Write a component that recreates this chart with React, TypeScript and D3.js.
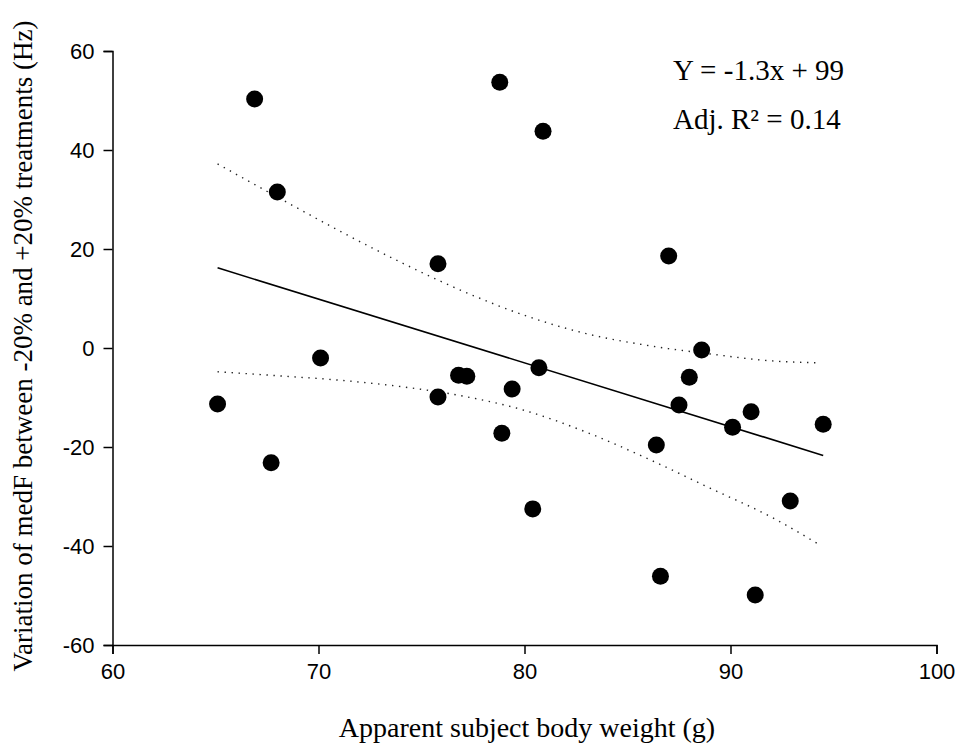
import * as d3 from 'd3'
import { useEffect, useRef } from 'react'

// body weight (g) and medF variation (Hz) for each subject
const weights = [65.1, 66.9, 67.7, 68.0, 70.1, 75.8, 75.8, 76.8, 77.2, 78.8, 78.9, 79.4, 80.4, 80.7, 80.9,
    86.4, 86.6, 87.0, 87.5, 88.0, 88.6, 90.1, 91.0, 91.2, 92.9, 94.5]
const variations = [-11.3, 50.3, -23.2, 31.5, -2.0, 17.0, -9.9, -5.5, -5.7, 53.7, -17.2, -8.3, -32.5, -4.0, 43.8,
    -19.6, -46.1, 18.6, -11.5, -5.9, -0.4, -16.0, -12.9, -49.9, -30.9, -15.4]

// fitted line end points
const fitX = [65.1, 94.5]
const fitY = [16.2, -21.7]

// 95% confidence band
const bandX = [65.1, 68, 71, 74, 77, 80, 83, 86, 89, 92, 94.3]
const bandUpper = [37.2, 30.5, 23.7, 17.3, 11.5, 6.6, 2.9, 0.5, -1.2, -2.6, -3.0]
const bandLower = [-4.8, -5.6, -6.5, -7.8, -9.7, -12.6, -17.0, -22.4, -28.3, -34.2, -39.7]

const xTicks = [60, 70, 80, 90, 100]
const yTicks = [-60, -40, -20, 0, 20, 40, 60]

const App = () => {
    const ref = useRef<SVGSVGElement>(null)

    useEffect(() => {
        const svg = d3.select(ref.current)
        svg.selectAll('*').remove()

        const x = d3.scaleLinear().domain([60, 100]).range([112.5, 936.5])
        const y = d3.scaleLinear().domain([-60, 60]).range([645, 51])

        const sans = '"Liberation Sans", Arial, sans-serif'
        const serif = '"Liberation Serif", "Times New Roman", serif'

        // axes (plain hyphen for negatives, like the original)
        const xAxis = svg.append('g')
            .attr('transform', `translate(0,${y(-60)})`)
            .call(d3.axisBottom(x).tickValues(xTicks).tickSize(9).tickPadding(9).tickFormat(d => String(d)))
        const yAxis = svg.append('g')
            .attr('transform', `translate(${x(60)},0)`)
            .call(d3.axisLeft(y).tickValues(yTicks).tickSize(9).tickPadding(9).tickFormat(d => String(d)))

        for (const ax of [xAxis, yAxis]) {
            ax.select('.domain').attr('stroke', '#000').attr('stroke-width', 1.5)
            ax.selectAll('.tick line').attr('stroke', '#000').attr('stroke-width', 1.5)
            ax.selectAll('.tick text')
                .attr('fill', '#000')
                .style('font-family', sans)
                .style('font-size', '22px')
        }

        // confidence band
        const band = d3.range(bandX.length)
        const dotted = (vals: number[]) => d3.line<number>()
            .x(i => x(bandX[i]))
            .y(i => y(vals[i]))
            .curve(d3.curveMonotoneX)(band)

        for (const vals of [bandUpper, bandLower]) {
            svg.append('path')
                .attr('d', dotted(vals))
                .attr('fill', 'none')
                .attr('stroke', '#222')
                .attr('stroke-width', 1.4)
                .attr('stroke-dasharray', '1.4,5.6')
        }

        // regression line
        svg.append('line')
            .attr('x1', x(fitX[0]))
            .attr('y1', y(fitY[0]))
            .attr('x2', x(fitX[1]))
            .attr('y2', y(fitY[1]))
            .attr('stroke', '#000')
            .attr('stroke-width', 1.6)

        // points
        svg.selectAll('.pt')
            .data(weights.map((w, i) => [w, variations[i]]))
            .enter()
            .append('circle')
            .attr('class', 'pt')
            .attr('cx', d => x(d[0]))
            .attr('cy', d => y(d[1]))
            .attr('r', 8.5)
            .attr('fill', '#000')

        // equation
        svg.append('text')
            .attr('x', 673)
            .attr('y', 80)
            .style('font-family', serif)
            .style('font-size', '29px')
            .text('Y = -1.3x + 99')
        svg.append('text')
            .attr('x', 673)
            .attr('y', 129)
            .style('font-family', serif)
            .style('font-size', '29px')
            .text('Adj. R² = 0.14')

        // axis titles
        svg.append('text')
            .attr('x', 527)
            .attr('y', 737)
            .attr('text-anchor', 'middle')
            .style('font-family', serif)
            .style('font-size', '28px')
            .text('Apparent subject body weight (g)')
        svg.append('text')
            .attr('transform', `translate(32,346) rotate(-90)`)
            .attr('text-anchor', 'middle')
            .style('font-family', serif)
            .style('font-size', '27px')
            .text('Variation of medF between -20% and +20% treatments (Hz)')
    }, [])

    return (
        <div style={{ position: 'absolute', left: 0, top: 0, background: '#fff' }}>
            <svg ref={ref} width={958} height={744} />
        </div>
    )
}

export default App
